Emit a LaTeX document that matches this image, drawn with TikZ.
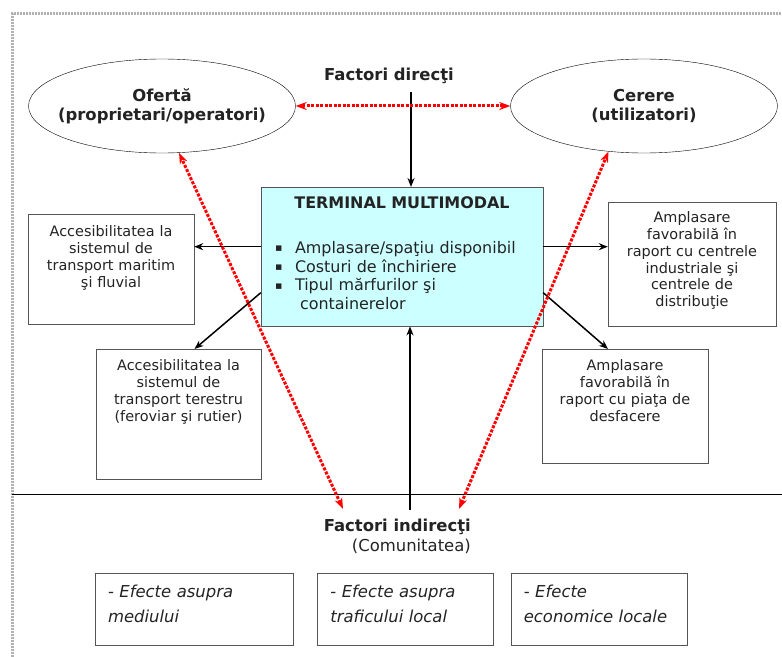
\documentclass[tikz,border=0pt]{standalone}
\usepackage{fontspec}
\setmainfont{DejaVu Sans}
\usetikzlibrary{shapes.geometric, arrows.meta, positioning}
\definecolor{termcyan}{RGB}{204,255,255}
\definecolor{boxgray}{RGB}{85,85,85}
\definecolor{textgray}{RGB}{35,35,35}
\newcommand{\sqbul}{\makebox[20bp][l]{\raisebox{1.5bp}{\fontsize{11}{11}\selectfont ▪}}}

\begin{document}
\begin{tikzpicture}[
    x=1bp, y=-1bp,
    every node/.style={text=textgray},
    party/.style={ellipse, draw, minimum width=267bp, minimum height=94bp,
                  inner xsep=-16bp, inner ysep=0pt, align=center,
                  font=\bfseries\fontsize{16.5}{19}\selectfont},
    factor/.style={font=\bfseries\fontsize{16.5}{20}\selectfont,
                   align=right, inner sep=0pt},
    term/.style={draw=boxgray, fill=termcyan, anchor=north, text width=254bp,
                 inner xsep=14bp, inner ysep=0pt, align=left,
                 text height=21bp, text depth=118bp,
                 font=\fontsize{16}{19}\selectfont},
    infobox/.style={draw=boxgray, anchor=north, inner xsep=2bp,
                    inner ysep=0pt, align=center,
                    font=\fontsize{14.5}{17}\selectfont},
    effect/.style={draw=boxgray, anchor=north, inner xsep=13bp,
                   inner ysep=0pt, align=left, text height=24bp,
                   text depth=48bp, font=\itshape\fontsize{16.5}{25}\selectfont},
    arrow/.style={-{Stealth[length=9bp, width=7bp]}, line width=1.5bp},
    dual/.style={{Stealth[length=11bp, width=8bp]}-{Stealth[length=11bp, width=8bp]},
                 red, line width=3bp, dash pattern=on 3bp off 1.5bp}
]
    \useasboundingbox (0,0) rectangle (782,657);
    % frame and separator
    \draw[gray!60, line width=3bp, dash pattern=on 2bp off 1bp]
        (12,657) -- (12,14) -- (782,14);
    \draw[line width=1bp] (12,494) -- (782,494);

    \node[party] (ofer) at (162,106) {Ofertă\\(proprietari/operatori)};
    \node[party] (cer) at (644,106) {Cerere\\(utilizatori)};
    \node[factor, anchor=base] (fd) at (389,81) {Factori direcţi};

    \node[term] (term) at (402,187) {%
        {\centering\bfseries TERMINAL MULTIMODAL\par}\vspace{26bp}
        \sqbul Amplasare/spaţiu disponibil\par
        \sqbul Costuri de închiriere\par
        \sqbul Tipul mărfurilor şi\par
        \hspace*{25bp}containerelor};

    \node[infobox, text width=162bp, text height=22bp, text depth=88bp]
        (acmar) at (111,214)
        {Accesibilitatea la\\sistemul de\\transport maritim\\şi fluvial};
    \node[infobox, text width=161bp, text height=21bp, text depth=109bp]
        (acter) at (178.5,349)
        {Accesibilitatea la\\sistemul de\\transport terestru\\(feroviar şi rutier)};
    \node[infobox, text width=164bp, text height=20bp, text depth=104bp]
        (amind) at (692,202)
        {Amplasare\\favorabilă în\\raport cu centrele\\industriale şi\\centrele de\\distribuţie};
    \node[infobox, text width=162bp, text height=21bp, text depth=93bp]
        (ampia) at (625,349)
        {Amplasare\\favorabilă în\\raport cu piaţa de\\desfacere};

    \node[factor, anchor=north east] (fi) at (471,519)
        {Factori indirecţi\\\mdseries(Comunitatea)};
    \node[effect, text width=172bp] (efmed) at (194,573)
        {\textup{-} Efecte asupra\\mediului};
    \node[effect, text width=150bp, right=24bp of efmed] (eftraf)
        {\textup{-} Efecte asupra\\traficului local};
    \node[effect, text width=150bp, right=17bp of eftraf] (efeco)
        {\textup{-} Efecte\\economice locale};

    % black arrows
    \coordinate (comm) at (410,510);
    \draw[arrow] ([xshift=22bp, yshift=-8bp]fd.south)
        -- ([xshift=22bp]fd.south |- term.north);
    \draw[arrow] (comm) -- (comm |- term.south);
    \draw[arrow] ([yshift=10bp]term.west) -- ([yshift=10bp]term.west -| acmar.east);
    \draw[arrow] ([yshift=10bp]term.east) -- ([yshift=10bp]term.east -| amind.west);
    \draw[arrow] ([yshift=-36bp]term.west) -- ([xshift=16bp]acter.north);
    \draw[arrow] ([yshift=-36bp]term.east) -- ([xshift=-17bp]ampia.north);

    % red links
    \coordinate (fiL) at (343,509);
    \coordinate (fiR) at (459,509);
    \draw[dual] (ofer.east) -- (cer.west);
    \draw[dual] (fiL) -- (ofer.-70);
    \draw[dual] (fiR) -- (cer.-128);
\end{tikzpicture}
\end{document}
